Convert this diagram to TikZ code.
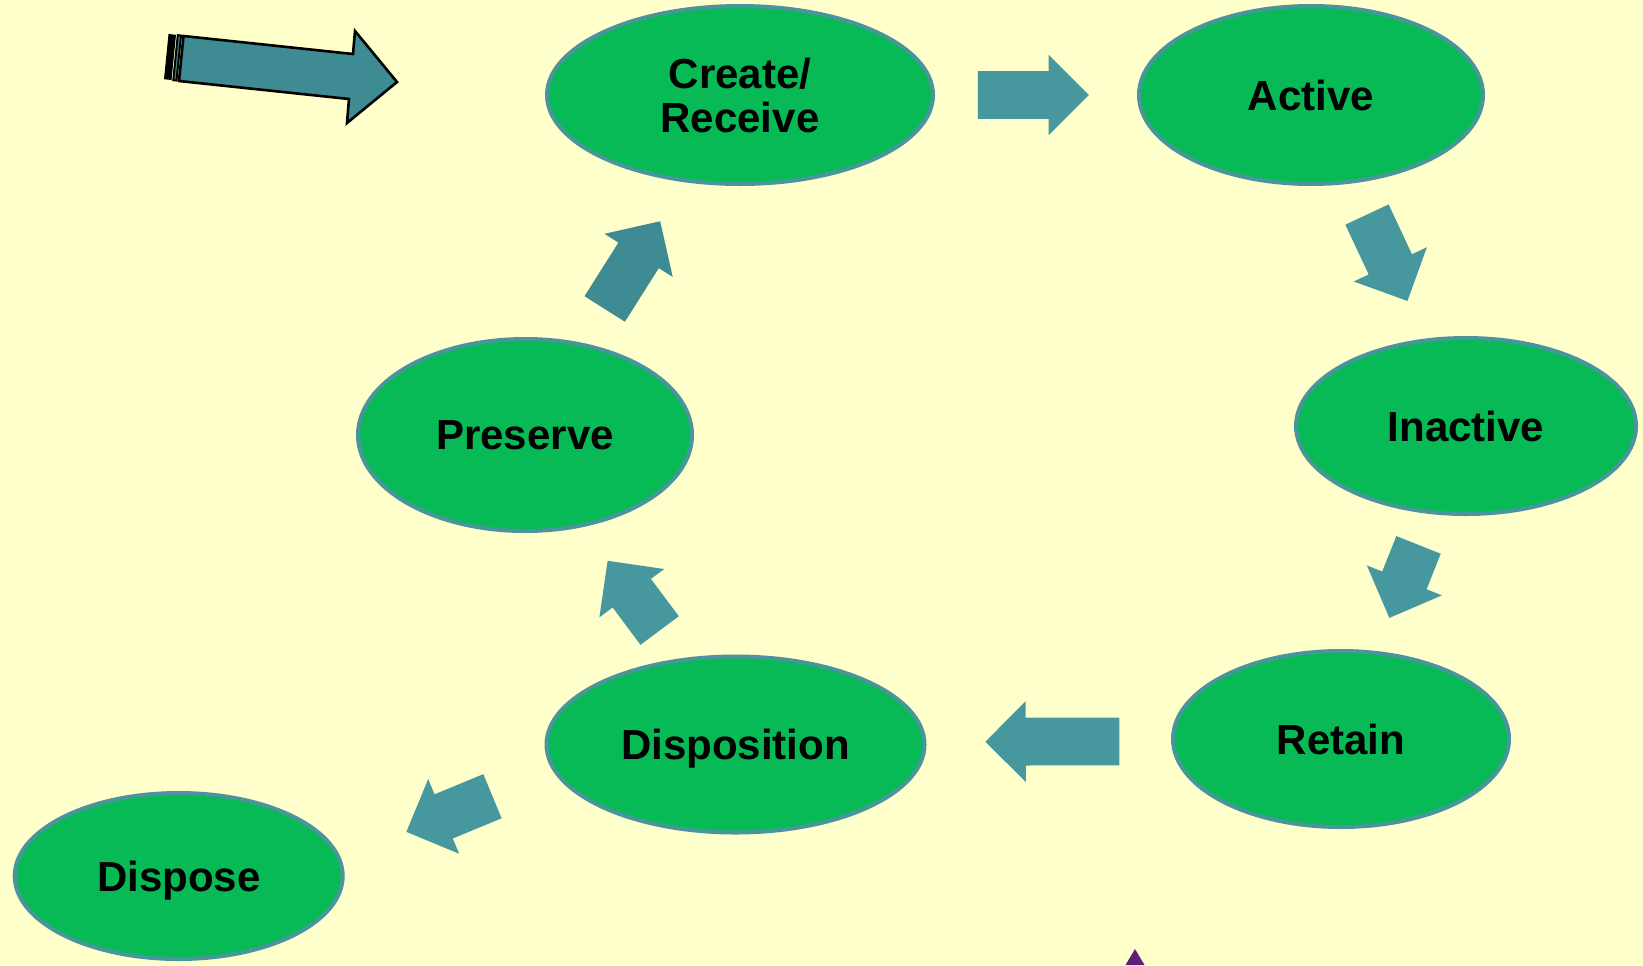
\documentclass[tikz,border=0pt]{standalone}
\usepackage{fontspec}
\setmainfont{Liberation Sans}
\usetikzlibrary{calc}
\usetikzlibrary{shapes.geometric,shapes.arrows}

\definecolor{paper}{RGB}{255,255,204}
\definecolor{stagegreen}{RGB}{7,186,86}
\definecolor{rimteal}{RGB}{72,150,155}
\definecolor{flowteal}{RGB}{70,151,158}
\definecolor{darkteal}{RGB}{62,139,147}
\definecolor{markpurple}{RGB}{98,30,120}

\tikzset{
 stage/.style={ellipse, draw=rimteal, line width=2pt, fill=stagegreen, inner sep=0pt,
   font=\bfseries\fontsize{21}{22}\selectfont, align=center, text depth=0pt},
 flow/.style={single arrow, draw=none, inner xsep=0pt, inner ysep=11.75pt,
   single arrow head extend=8.25pt, minimum width=40pt, sloped, allow upside down},
}

\begin{document}
\begin{tikzpicture} [x=.5pt,y=-.5pt]
\fill[paper] (0,0) rectangle (1643,965);
\useasboundingbox (0,0) rectangle (1643,965);
% life cycle stages
\node[stage, minimum width=193pt, minimum height=89pt] (create) at (740,95) {Create/\\Receive};
\node[stage, minimum width=172pt, minimum height=89pt] (active) at (1311,95) {Active};
\node[stage, minimum width=170pt, minimum height=88pt] (inactive) at (1466,426) {Inactive};
\node[stage, minimum width=168pt, minimum height=88pt] (retain) at (1341,739) {Retain};
\node[stage, minimum width=189pt, minimum height=88pt] (disposition) at (735.5,744.5) {Disposition};
\node[stage, minimum width=167pt, minimum height=96pt] (preserve) at (525,435) {Preserve};
\node[stage, minimum width=164pt, minimum height=83pt] (dispose) at (178.7,876) {Dispose};
% block arrows between stages
\foreach \src/\dst/\where/\turn/\len/\col in {
 create/active/.493/0/55.5pt/flowteal,
 active/inactive/.459/0/47.7pt/flowteal,
 inactive/retain/.461/0/39.3pt/flowteal,
 retain/disposition/.457/-.4/67pt/flowteal,
 disposition/preserve/.450/2.5/43.5pt/flowteal,
 preserve/create/.470/0/51.9pt/darkteal,
 disposition/dispose/.494/9.2/46.6pt/flowteal} {
 \path (\src.center) -- (\dst.center) node[flow, pos=\where, rotate=\turn, minimum height=\len, fill=\col] (to-\dst) {};
}
% entry arrow
\fill[black] (168.5,34) -- (176,34.8) -- (171.5,80) -- (164,79.2) -- cycle;
\draw[black, line width=1pt, fill=darkteal] (177.8,35.2) -- (181,35.5) -- (176.5,80.5) -- (173.3,80.2) -- cycle;
\draw[black, line width=1.3pt, fill=darkteal, line join=miter]
 (183.5,36) -- (353,54) -- (355,31) -- (397,82) -- (347,123) -- (349,99) -- (179,81) -- cycle;
% marker at the bottom edge
\fill[markpurple] (1135,949) -- (1144.5,965) -- (1125.5,965) -- cycle;
\end{tikzpicture}
\end{document}
